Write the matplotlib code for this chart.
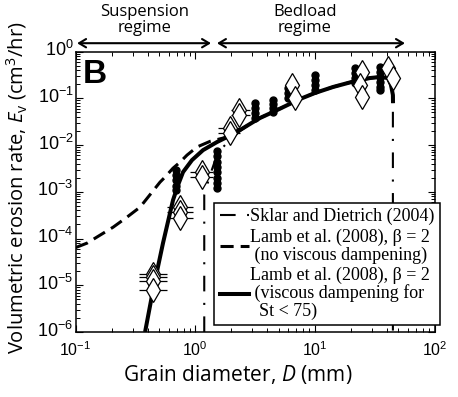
import matplotlib
matplotlib.use('Agg')
import matplotlib.pyplot as plt
import matplotlib.transforms as mtransforms
import numpy as np
from matplotlib.lines import Line2D

plt.rcParams.update({'font.family': ['Open Sans', 'DejaVu Sans'],
                     'mathtext.fontset': 'custom',
                     'mathtext.rm': 'Open Sans',
                     'mathtext.it': 'Open Sans:italic',
                     'axes.unicode_minus': False,
                     'axes.linewidth': 1.1,
                     'xtick.direction': 'in', 'ytick.direction': 'in',
                     'xtick.top': True, 'ytick.right': True,
                     'xtick.major.size': 5, 'ytick.major.size': 5,
                     'xtick.minor.size': 2.8, 'ytick.minor.size': 2.8,
                     'xtick.major.width': 0.8, 'ytick.major.width': 0.8,
                     'xtick.minor.width': 0.7, 'ytick.minor.width': 0.7,
                     })

# model curves (grain diameter mm, erosion rate cm3/hr)
visc_D = [0.381, 0.444, 0.538, 0.652, 0.718, 0.791, 0.94, 1.162, 1.52, 1.84, 2.37, 3.04, 3.48,
          4.47, 7.51, 10.0, 14.2, 21.6, 28.9, 35.0, 40.8, 43.3, 44.9, 45.0]
visc_E = [1e-6, 7.9e-6, 8.0e-5, 6.6e-4, 1.39e-3, 2.64e-3, 4.77e-3, 7.8e-3, 0.0116, 0.0148, 0.021, 0.031, 0.038,
          0.051, 0.0966, 0.13, 0.175, 0.234, 0.272, 0.286, 0.272, 0.193, 0.118, 0.079]

novisc_D = [0.1, 0.125, 0.160, 0.206, 0.269, 0.346, 0.508, 0.56, 0.652, 0.746, 0.854, 1.035, 1.33,
            1.84, 2.37, 3.04, 3.48, 4.47, 7.51, 10.0, 14.2, 21.6, 28.9, 35.0, 40.8, 43.3, 44.9, 45.0]
novisc_E = [6.4e-5, 8.0e-5, 1.18e-4, 1.75e-4, 2.87e-4, 4.7e-4, 1.61e-3, 2.07e-3, 3.2e-3, 4.3e-3, 6.1e-3, 9.1e-3, 0.012,
            0.0148, 0.021, 0.031, 0.038, 0.051, 0.0966, 0.13, 0.175, 0.234, 0.272, 0.286, 0.272, 0.193, 0.118, 0.079]

sd_D = [1.19, 1.19, 1.33, 1.49, 1.675, 1.88, 2.37, 3.04, 3.48, 4.47, 7.51, 10.0, 14.2, 21.6, 28.9, 35.0,
        40.8, 43.3, 44.9, 44.9]
sd_E = [1e-6, 8.5e-4, 2.28e-3, 5.3e-3, 8.6e-3, 0.0116, 0.02, 0.031, 0.038, 0.051, 0.0966, 0.13, 0.175, 0.234,
        0.272, 0.286, 0.272, 0.193, 0.118, 1e-6]

# experiments: filled circles
dot_D = [0.69] * 5 + [1.52] * 8 + [3.16] * 4 + [4.47] * 4 + [5.96] * 3 + [10.0] * 4 + [21.6] * 4 + [35.0] * 6
dot_E = [2.92e-3, 2.28e-3, 1.78e-3, 1.33e-3, 1.09e-3,
         7.4e-3, 5.8e-3, 4.3e-3, 3.4e-3, 2.64e-3, 1.96e-3, 1.53e-3, 1.2e-3,
         0.079, 0.062, 0.048, 0.038,
         0.092, 0.075, 0.062, 0.051,
         0.166, 0.13, 0.101,
         0.315, 0.247, 0.193, 0.151,
         0.446, 0.348, 0.272, 0.213,
         0.47, 0.37, 0.286, 0.224, 0.174, 0.15]

# experiments: open diamonds with grain size range
dia_D = [0.444, 0.444, 0.444, 0.444, 0.746, 0.746, 0.746, 1.14, 1.14, 1.95, 1.95, 2.32, 2.32,
         6.44, 6.82, 24.7, 23.8, 24.7, 40.8, 44.9]
dia_E = [1.73e-5, 1.49e-5, 1.22e-5, 7.9e-6, 4.7e-4, 3.7e-4, 2.7e-4, 2.64e-3, 2.07e-3, 0.0231, 0.018,
         0.056, 0.044, 0.193, 0.101, 0.366, 0.193, 0.107, 0.446, 0.272]
dia_lo = [0.339, 0.339, 0.339, 0.339, 0.58, 0.58, 0.58, 0.91, 0.91, 1.55, 1.55, 2.0, 2.0,
          6.44, 6.82, 24.7, 23.8, 24.7, 40.8, 44.9]
dia_hi = [0.58, 0.58, 0.58, 0.58, 0.953, 0.953, 0.953, 1.41, 1.41, 2.37, 2.37, 2.85, 2.85,
          6.44, 6.82, 24.7, 23.8, 24.7, 40.8, 44.9]

fig = plt.figure(figsize=(4.58, 3.97), dpi=100)
ax = fig.add_axes([0.165, 0.1637, 0.7837, 0.7063])

sd_style = (0, (7.5, 5.5, 1, 5.5))
nv_style = (0, (4.3, 2.3))
ax.plot(sd_D, sd_E, color='k', lw=1.5, linestyle=sd_style)
ax.plot(novisc_D, novisc_E, color='k', lw=2.2, linestyle=nv_style)
ax.plot(visc_D, visc_E, color='k', lw=2.9, solid_capstyle='butt', solid_joinstyle='round')

ax.plot(dot_D, dot_E, 'o', color='k', ms=5, zorder=4)

xerr = [np.array(dia_D) - np.array(dia_lo), np.array(dia_hi) - np.array(dia_D)]
ax.errorbar(dia_D, dia_E, xerr=xerr, fmt='none', ecolor='k', elinewidth=0.9, capsize=0, zorder=5)
ax.plot(dia_D, dia_E, 'd', ms=12, mfc='white', mec='k', mew=0.9, zorder=6)

ax.set_xscale('log')
ax.set_yscale('log')
ax.set_xlim(0.1, 100)
ax.set_ylim(1e-6, 1)
ax.tick_params(which='both', labelfontfamily='Liberation Sans')
ax.tick_params(axis='x', labelsize=11.5, pad=6)
ax.tick_params(axis='y', labelsize=13, pad=1.5)
ax.xaxis.set_minor_formatter(matplotlib.ticker.NullFormatter())
ax.yaxis.set_minor_formatter(matplotlib.ticker.NullFormatter())
ax.yaxis.set_minor_locator(matplotlib.ticker.LogLocator(base=10, subs=np.arange(2, 10), numticks=20))
ax.xaxis.set_minor_locator(matplotlib.ticker.LogLocator(base=10, subs=np.arange(2, 10), numticks=20))

# nudge the y tick labels up a little, as in the original
lift = mtransforms.ScaledTranslation(0, 2.5 / 72, fig.dpi_scale_trans)
for tick in ax.yaxis.get_major_ticks():
    tick.label1.set_transform(tick.label1.get_transform() + lift)

ax.set_xlabel('Grain diameter, $D$ (mm)', fontsize=15, labelpad=3, x=0.451)
ax.set_ylabel('Volumetric erosion rate, $E_\\mathrm{v}$ (cm$^3$/hr)', fontsize=14.5, labelpad=6, y=0.515)

ax.text(0.02, 0.975, 'B', transform=ax.transAxes, fontsize=24, fontweight='bold',
        family='Liberation Sans', va='top', ha='left')

# regime arrows above the axes
trans = matplotlib.transforms.blended_transform_factory(ax.transData, ax.transAxes)
arrow = dict(arrowstyle='<->,head_length=0.5,head_width=0.3', color='k', lw=1.5, shrinkA=0, shrinkB=0)
ax.annotate('', xy=(0.103, 1.03), xytext=(1.355, 1.03), xycoords=trans, textcoords=trans,
            arrowprops=arrow, annotation_clip=False)
ax.annotate('', xy=(1.52, 1.03), xytext=(56.6, 1.03), xycoords=trans, textcoords=trans,
            arrowprops=arrow, annotation_clip=False)
ax.text(0.38, 1.057, 'Suspension\nregime', transform=trans, ha='center', va='bottom',
        fontsize=12, linespacing=0.95)
ax.text(8.26, 1.057, 'Bedload\nregime', transform=trans, ha='center', va='bottom',
        fontsize=12, linespacing=0.95)

handles = [Line2D([], [], color='k', lw=1.5, linestyle=sd_style),
           Line2D([], [], color='k', lw=2.2, linestyle=nv_style),
           Line2D([], [], color='k', lw=2.9)]
labels = ['Sklar and Dietrich (2004)',
          'Lamb et al. (2008), \u03b2 = 2\n (no viscous dampening)',
          'Lamb et al. (2008), \u03b2 = 2\n (viscous dampening for\n  St < 75)']
leg = ax.legend(handles, labels, loc='lower right', bbox_to_anchor=(0.961, 0.181),
                bbox_transform=fig.transFigure, borderaxespad=0, fancybox=False,
                framealpha=1, edgecolor='k', handlelength=1.6, handletextpad=0.1,
                borderpad=0.3, labelspacing=0.2, prop={'family': 'Liberation Serif', 'size': 13})
leg.get_frame().set_linewidth(1.1)
for t in leg.get_texts():
    t.set_linespacing(1.0)

fig.savefig('out.png', dpi=100)
